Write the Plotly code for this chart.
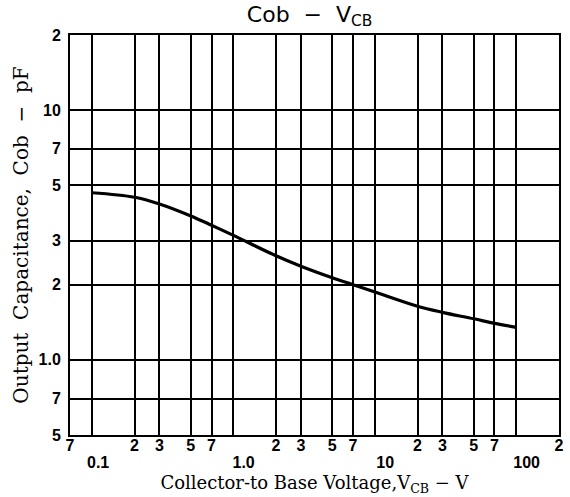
import plotly.graph_objects as go

# Data
vcb = [0.1, 0.2, 0.3, 0.5, 0.7, 1.0, 2, 3, 5, 7, 10, 20, 30, 50, 70, 100]
cob = [4.67, 4.48, 4.21, 3.77, 3.46, 3.15, 2.61, 2.37, 2.13, 2.0, 1.87, 1.64, 1.55, 1.46, 1.40, 1.35]

# minor (digit) tick labels on the main x axis
x_tickvals = [0.07, 0.2, 0.3, 0.5, 0.7, 2, 3, 5, 7, 20, 30, 50, 70, 200]
x_ticktext = ["7", "2", "3", "5", "7", "2", "3", "5", "7", "2", "3", "5", "7", "2"]
# decade labels, drawn lower on an overlaid axis
x_decvals = [0.1, 1, 10, 100]
x_dectext = ["\u2002 0.1", "\u2002\u2002 1.0", "\u2002\u2002 10", "\u2002\u2002 100"]
y_tickvals = [0.5, 0.7, 1, 2, 3, 5, 7, 10, 20]
y_ticktext = ["5", "7", "1.0", "2", "3", "5", "7", "10", "2"]

xrange_log = [-1.15490196, 2.30103]

fig = go.Figure()
# invisible helper trace so the overlaid decade axis is drawn
fig.add_trace(go.Scatter(
    x=[vcb[0]], y=[cob[0]], xaxis="x2", mode="markers",
    marker=dict(opacity=0), showlegend=False, hoverinfo="skip",
))
fig.add_trace(go.Scatter(
    x=vcb, y=cob, mode="lines",
    line=dict(color="black", width=3.2, shape="spline", smoothing=1.0),
    showlegend=False, hoverinfo="skip",
))

tickfont = dict(family="Liberation Sans", size=16, color="black", weight=700)

fig.update_layout(
    width=570, height=497,
    margin=dict(l=70, r=11, t=35, b=62),
    paper_bgcolor="white", plot_bgcolor="white",
    title=dict(
        text="Cob  −  V<sub>CB</sub>",
        x=0.49, xref="paper", xanchor="center",
        y=0.972, yref="container", yanchor="middle",
        font=dict(family="DejaVu Sans", size=22, color="black"),
    ),
    xaxis=dict(
        type="log", range=xrange_log, automargin=False,
        tickmode="array", tickvals=x_tickvals, ticktext=x_ticktext,
        tickfont=tickfont, tickangle=0, ticks="", ticklen=0, ticklabelstandoff=-5,
        showgrid=True, gridcolor="black", gridwidth=1.5,
        showline=True, linecolor="black", linewidth=2, mirror=True,
        zeroline=False,
        title=dict(
            text="Collector-to Base Voltage,V<sub>CB</sub> − V",
            font=dict(family="DejaVu Serif", size=18, color="black"),
            standoff=23,
        ),
    ),
    xaxis2=dict(
        type="log", range=xrange_log, overlaying="x", anchor="y", side="bottom",
        automargin=False, matches="x",
        tickmode="array", tickvals=x_decvals, ticktext=x_dectext,
        tickfont=tickfont, tickangle=0, ticks="", ticklen=0, ticklabelstandoff=16,
        showgrid=True, gridcolor="black", gridwidth=1.5,
        showline=False, zeroline=False,
    ),
    yaxis=dict(
        type="log", range=[-0.30103, 1.30103], automargin=False,
        tickmode="array", tickvals=y_tickvals, ticktext=y_ticktext,
        tickfont=tickfont, ticks="", ticklen=0, ticklabelstandoff=4,
        showgrid=True, gridcolor="black", gridwidth=1.5,
        showline=True, linecolor="black", linewidth=2, mirror=True,
        zeroline=False,
        title=dict(
            text="Output  Capacitance,  Cob  −  pF",
            font=dict(family="DejaVu Serif", size=20, color="black"),
            standoff=5,
        ),
    ),
)

fig.write_html(
    "out.html",
    config={"displayModeBar": False},
    post_script="document.body.style.margin='0';",
)
